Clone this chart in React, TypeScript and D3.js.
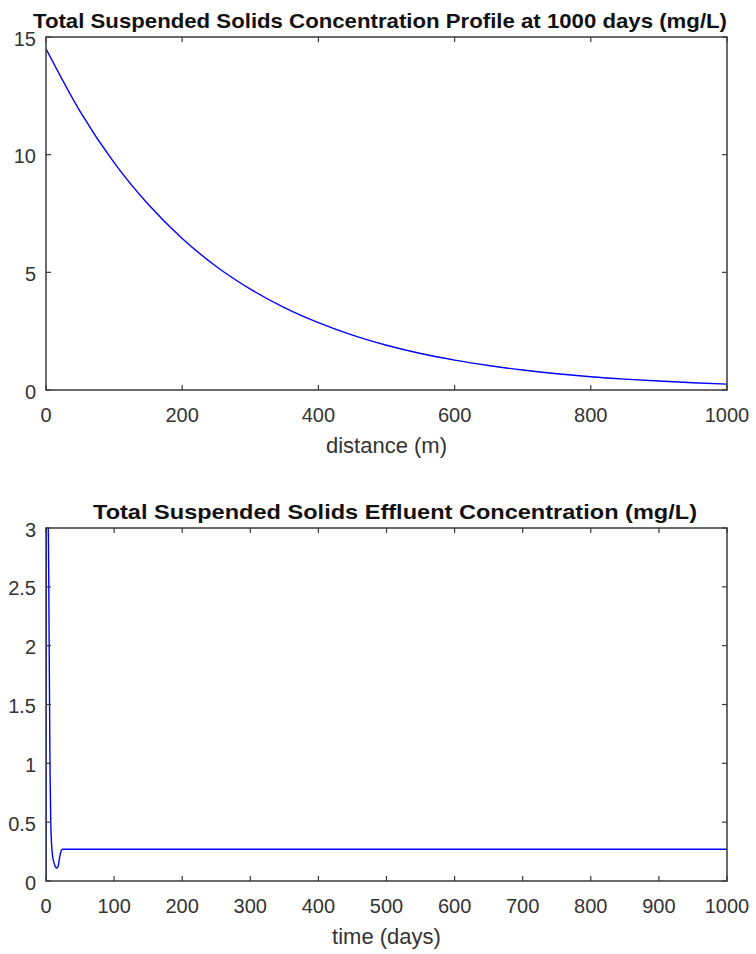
import React from "react";
import * as d3 from "d3";

// Concentration profile along the channel at t = 1000 days
const distance = [0, 50, 100, 150, 200, 250, 300, 350, 400, 450, 500, 550, 600, 650, 700, 750, 800, 850, 900, 950, 1000];
const profileTSS = [14.5, 11.84, 9.66, 7.89, 6.44, 5.25, 4.29, 3.5, 2.86, 2.33, 1.9, 1.55, 1.27, 1.04, 0.85, 0.69, 0.56, 0.46, 0.38, 0.31, 0.25];

// Effluent concentration over time
const time = [0, 1, 2, 3, 4, 5, 6, 7, 8, 10, 12, 14, 16, 18, 20, 22, 24, 30, 100, 500, 1000];
const effluentTSS = [0, 4.0, 3.8, 3.3, 2.6, 1.7, 0.9, 0.5, 0.33, 0.2, 0.15, 0.12, 0.11, 0.13, 0.2, 0.25, 0.27, 0.27, 0.27, 0.27, 0.27];

const profileXTicks = [0, 200, 400, 600, 800, 1000];
const profileYTicks = [0, 5, 10, 15];
const effluentXTicks = [0, 100, 200, 300, 400, 500, 600, 700, 800, 900, 1000];
const effluentYTicks = [0, 0.5, 1, 1.5, 2, 2.5, 3];

const AXIS = "#3a3a3a";
const LABEL = "#333333";
const LINE = "#0000ff";
const FONT = "'Liberation Sans', Arial, Helvetica, sans-serif";

type PanelProps = {
  id: string;
  top: number;
  bottom: number;
  xs: number[];
  ys: number[];
  xDomain: [number, number];
  yDomain: [number, number];
  xTicks: number[];
  yTicks: number[];
  title: string;
  titleX: number;
  titleLen: number;
  xLabel: string;
};

const LEFT = 46;
const RIGHT = 727;
const TICK = 5;

function Panel(p: PanelProps) {
  const x = d3.scaleLinear().domain(p.xDomain).range([LEFT, RIGHT]);
  const y = d3.scaleLinear().domain(p.yDomain).range([p.bottom, p.top]);
  const line = d3
    .line<number>()
    .x((_, i) => x(p.xs[i]))
    .y((d) => y(d))
    .curve(d3.curveMonotoneX);
  const fmt = (v: number) => String(v);
  return (
    <g>
      <defs>
        <clipPath id={p.id}>
          <rect x={LEFT} y={p.top} width={RIGHT - LEFT} height={p.bottom - p.top} />
        </clipPath>
      </defs>
      <rect x={LEFT} y={p.top} width={RIGHT - LEFT} height={p.bottom - p.top} fill="#fff" />
      <path d={line(p.ys) || ""} fill="none" stroke={LINE} strokeWidth={1.4} clipPath={`url(#${p.id})`} />
      {/* box */}
      <rect x={LEFT} y={p.top} width={RIGHT - LEFT} height={p.bottom - p.top} fill="none" stroke={AXIS} strokeWidth={1.5} />
      {/* x ticks (bottom and top, inward) */}
      {p.xTicks.map((t) => (
        <g key={"x" + t}>
          <line x1={x(t)} x2={x(t)} y1={p.bottom} y2={p.bottom - TICK} stroke={AXIS} strokeWidth={1.2} />
          <line x1={x(t)} x2={x(t)} y1={p.top} y2={p.top + TICK} stroke={AXIS} strokeWidth={1.2} />
          <text x={x(t)} y={p.bottom + 32} textAnchor="middle" fontSize={20} fill={LABEL} fontFamily={FONT}>
            {fmt(t)}
          </text>
        </g>
      ))}
      {/* y ticks (left and right, inward) */}
      {p.yTicks.map((t) => (
        <g key={"y" + t}>
          <line x1={LEFT} x2={LEFT + TICK} y1={y(t)} y2={y(t)} stroke={AXIS} strokeWidth={1.2} />
          <line x1={RIGHT} x2={RIGHT - TICK} y1={y(t)} y2={y(t)} stroke={AXIS} strokeWidth={1.2} />
          <text x={LEFT - 10} y={y(t) + 8.5} textAnchor="end" fontSize={20} fill={LABEL} fontFamily={FONT}>
            {fmt(t)}
          </text>
        </g>
      ))}
      <text
        x={p.titleX}
        y={p.top - 9}
        fontSize={21}
        fontWeight="bold"
        fill="#111"
        fontFamily={FONT}
        textLength={p.titleLen}
        lengthAdjust="spacingAndGlyphs"
      >
        {p.title}
      </text>
      <text x={(LEFT + RIGHT) / 2} y={p.bottom + 63} textAnchor="middle" fontSize={22} fill={LABEL} fontFamily={FONT}>
        {p.xLabel}
      </text>
    </g>
  );
}

export default function App() {
  return (
    <svg width={756} height={954} style={{ position: "absolute", left: 0, top: 0, background: "#fff" }}>
      <rect width={756} height={954} fill="#fff" />
      <Panel
        id="clipProfile"
        top={37}
        bottom={390}
        xs={distance}
        ys={profileTSS}
        xDomain={[0, 1000]}
        yDomain={[0, 15]}
        xTicks={profileXTicks}
        yTicks={profileYTicks}
        title="Total Suspended Solids Concentration Profile at 1000 days (mg/L)"
        titleX={33}
        titleLen={694}
        xLabel="distance (m)"
      />
      <Panel
        id="clipEffluent"
        top={528}
        bottom={881}
        xs={time}
        ys={effluentTSS}
        xDomain={[0, 1000]}
        yDomain={[0, 3]}
        xTicks={effluentXTicks}
        yTicks={effluentYTicks}
        title="Total Suspended Solids Effluent Concentration (mg/L)"
        titleX={93}
        titleLen={604}
        xLabel="time (days)"
      />
    </svg>
  );
}
